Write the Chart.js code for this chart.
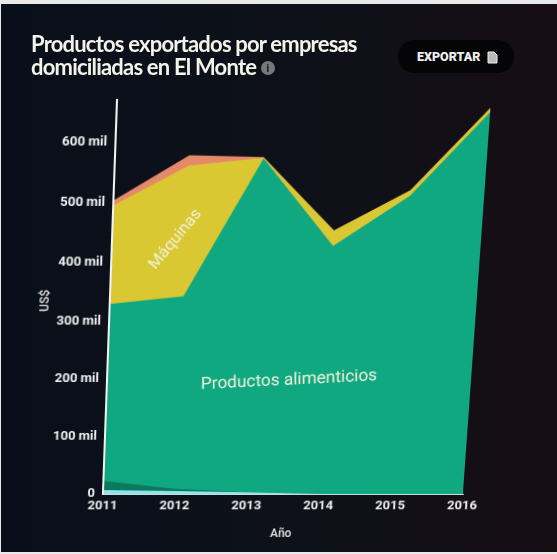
<!DOCTYPE html>
<html>
<head>
<meta charset="utf-8">
<style>
html,body{margin:0;padding:0;background:#e9e9ea;}
#card{position:absolute;left:1px;top:4px;width:556px;height:548px;overflow:hidden;
  background:linear-gradient(90deg,#090f1a 0%,#0e1119 55%,#170e14 100%);}
/* the reference is a photo of a screen, so the plot leans and widens towards the top */
#wrap{position:absolute;left:-1px;top:-4px;width:557px;height:554px;transform-origin:103px 492px;
  transform:matrix3d(1,0,0,0, -0.03438,0.96257,0,0.0000955, 0,0,1,0, 0,0,0,1);}
h1{position:absolute;left:30px;top:28px;margin:0;color:#f4f3ea;font:700 22px/23px "Lato",sans-serif;letter-spacing:-.8px;width:350px;}
h1 i{display:inline-block;width:14px;height:14px;border-radius:50%;background:#77787a;color:#1a1a1a;font:700 10px/14px "Open Sans";text-align:center;vertical-align:3px;letter-spacing:0;}
#exp{position:absolute;left:397px;top:36px;width:116px;height:33px;border-radius:16px;background:#050507;color:#eee;font:900 12.5px/33px "Roboto",sans-serif;text-align:left;text-indent:19px;}
#exp svg{position:absolute;left:89px;top:11px;}
</style>
</head>
<body>
<div id="card">
<div id="wrap"><canvas id="c" width="557" height="554"></canvas></div>
<h1 id="t">Productos exportados por empresas domiciliadas en El Monte <i>i</i></h1>
<div id="exp">EXPORTAR<svg width="11" height="13" viewBox="0 0 11 13"><path d="M1 1h6l3 3v8H1z" fill="#bbb" stroke="#eee"/></svg></div>
</div>
<script src="https://cdn.jsdelivr.net/npm/chart.js@4"></script>
<script>
const years = ['2011','2012','2013','2014','2015','2016'];
const otros = [7,5,3,0,0,0];
const quimicos = [16,4,0,0,0,0];
const alimenticios = [306,333,570,427,511,649];
const maquinas = [166,219,1,26,9,7];
const minerales = [8,17,1,0,0,0];

function ds(label,data,color){
  return {label:label,data:data,backgroundColor:color,borderWidth:0,pointRadius:0,fill:true,tension:0};
}

// labels written over the areas
const areaLabels = {
  id:'areaLabels',
  afterDatasetsDraw(chart){
    const c = chart.ctx, x = chart.scales.x, y = chart.scales.y;
    c.save();
    c.fillStyle = '#f1f1dc';
    c.textAlign = 'center';
    c.textBaseline = 'middle';
    c.font = '16px Roboto';
    c.translate(x.getPixelForValue(0.86),y.getPixelForValue(438));
    c.rotate(-52*Math.PI/180);
    c.fillText('Máquinas',0,0);
    c.restore();
    c.save();
    c.fillStyle = '#f1f1dc';
    c.textAlign = 'center';
    c.textBaseline = 'middle';
    c.font = '17px Roboto';
    c.translate(x.getPixelForValue(2.5),y.getPixelForValue(198));
    c.rotate(-3*Math.PI/180);
    c.fillText('Productos alimenticios',0,0);
    c.restore();
  }
};

new Chart(document.getElementById('c'),{
  type:'line',
  data:{labels:years,datasets:[
    ds('Otros',otros,'#8fe3ea'),
    ds('Químicos',quimicos,'#0b7a5c'),
    ds('Productos alimenticios',alimenticios,'#10a880'),
    ds('Máquinas',maquinas,'#d9c832'),
    ds('Minerales',minerales,'#e58a68')
  ]},
  plugins:[areaLabels],
  options:{
    responsive:false,
    animation:false,
    layout:{padding:{left:33,right:94,top:100,bottom:11}},
    plugins:{legend:{display:false},tooltip:{enabled:false}},
    scales:{
      x:{
        stacked:true,
        grid:{display:false,drawTicks:false},
        border:{color:'#d8f0f0',width:1},
        ticks:{color:'#eeeeee',font:{family:'Roboto',size:13,weight:'700'},padding:5,maxRotation:0},
        title:{display:true,text:'Año',color:'#e6e6e6',font:{family:'Roboto',size:12,weight:'500'},padding:{top:9,bottom:0}}
      },
      y:{
        stacked:true,
        min:0,
        max:669,
        grid:{display:false,drawTicks:false},
        border:{color:'#f2f2f2',width:2,z:1},
        ticks:{
          stepSize:100,
          color:'#eeeeee',
          font:{family:'Roboto',size:13,weight:'700'},
          padding:8,
          callback:v=>v===0?'0':v+' mil'
        },
        afterBuildTicks(s){s.ticks=s.ticks.filter(t=>t.value%100===0);},
        title:{display:true,text:'US$',color:'#e6e6e6',font:{family:'Roboto',size:12,weight:'500'},padding:{top:0,bottom:6}},
        afterFit(s){s.width=70;}
      }
    }
  }
});
</script>
</body>
</html>
